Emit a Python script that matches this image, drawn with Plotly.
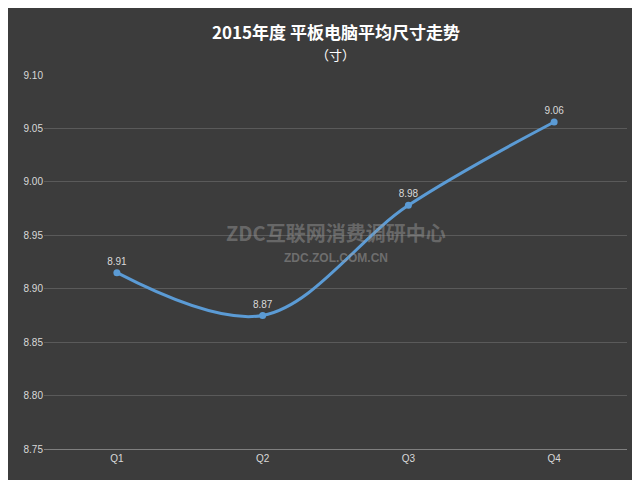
import plotly.graph_objects as go

quarters = ["Q1", "Q2", "Q3", "Q4"]
values = [8.915, 8.875, 8.978, 9.056]
labels = ["8.91", "8.87", "8.98", "9.06"]
yticks = [8.75, 8.80, 8.85, 8.90, 8.95, 9.00, 9.05, 9.10]

fig = go.Figure()
fig.add_trace(go.Scatter(
    x=quarters, y=values, mode="lines+markers+text",
    line=dict(color="#5b9bd5", width=3, shape="spline", smoothing=1.0),
    marker=dict(color="#5b9bd5", size=7),
    text=labels, textposition="top center",
    textfont=dict(color="#d9d9d9", size=10, family="Liberation Sans"),
    hoverinfo="skip"))

fig.update_layout(
    width=640, height=480,
    paper_bgcolor="#3c3c3c", plot_bgcolor="rgba(0,0,0,0)",
    margin=dict(l=36, r=21, t=67, b=39),
    showlegend=False,
    font=dict(family="Noto Sans CJK SC", color="#d9d9d9"),
    xaxis=dict(range=[-0.5, 3.5], showgrid=False, showline=True,
               linecolor="#7f7f7f", ticks="", tickfont=dict(size=10, color="#d9d9d9", family="Liberation Sans")),
    yaxis=dict(range=[8.75, 9.10], tickvals=yticks,
               ticktext=[f"{v:.2f}" for v in yticks],
               gridcolor="#5a5a5a", zeroline=False, showline=False,
               tickfont=dict(size=10, color="#d9d9d9", family="Liberation Sans")),
    annotations=[
        dict(text="<b>2015年度 平板电脑平均尺寸走势</b>", x=0.5, y=1.115, xref="paper", yref="paper",
             xanchor="center", yanchor="middle", showarrow=False,
             font=dict(size=17, color="#ffffff", family="Noto Sans CJK SC")),
        dict(text="（寸）", xref="paper", yref="paper", x=0.5, y=1.056, yanchor="middle", showarrow=False,
             font=dict(size=13, color="#ffffff", family="Noto Sans CJK SC")),
        dict(text="<b>ZDC互联网消费调研中心</b>", xref="paper", yref="paper", x=0.5, y=0.58,
             showarrow=False, font=dict(size=20, color="rgba(160,160,160,0.45)", family="Noto Sans CJK SC")),
        dict(text="<b>ZDC.ZOL.COM.CN</b>", xref="paper", yref="paper", x=0.5, y=0.51,
             showarrow=False, font=dict(size=12, color="rgba(160,160,160,0.5)", family="Liberation Sans")),
    ],
)
fig.write_html("out.html")
